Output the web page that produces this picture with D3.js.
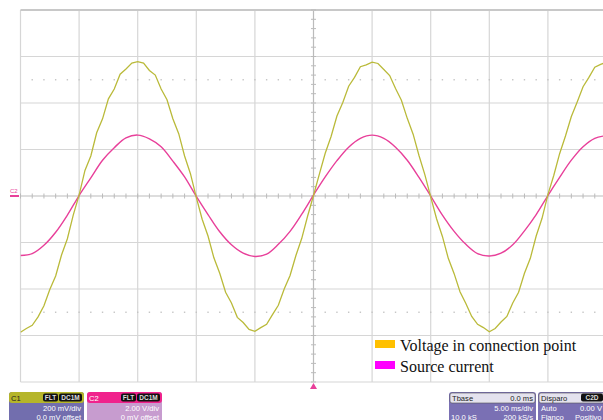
<!DOCTYPE html>
<html>
<head>
<meta charset="utf-8">
<script src="https://cdn.jsdelivr.net/npm/d3@7"></script>
<style>
  body { margin: 0; background: #fff; }
  svg { display: block; }
</style>
</head>
<body>
<script>
// taille de la fenetre
var larg = 603;
var haut = 420;

// tension (divisions), un point tous les 0.1 div
var tension = [
  -2.93, -2.85, -2.78, -2.60, -2.36, -2.01, -1.72, -1.27, -0.92, -0.41,
   0.02,  0.55,  0.86,  1.36,  1.66,  2.09,  2.30,  2.62,  2.73,  2.86,
   2.89,  2.86,  2.70,  2.60,  2.30,  2.07,  1.66,  1.34,  0.86,  0.48,
  -0.03, -0.50, -0.86, -1.33, -1.66, -2.07, -2.30, -2.61, -2.72, -2.87,
  -2.91, -2.83, -2.76, -2.55, -2.35, -2.00, -1.71, -1.28, -0.91, -0.43,
   0.01,  0.47,  0.92,  1.28,  1.72,  2.01,  2.36,  2.55,  2.78,  2.82,
   2.88,  2.85,  2.72,  2.59,  2.31,  2.06,  1.67,  1.33,  0.87,  0.46,
  -0.02, -0.49, -0.87, -1.34, -1.67, -2.06, -2.31, -2.59, -2.76, -2.83,
  -2.92, -2.85, -2.71, -2.59, -2.30, -2.07, -1.66, -1.34, -0.86, -0.48,
   0.03,  0.44,  0.91,  1.29,  1.71,  2.02,  2.35,  2.55,  2.77,  2.83,
   2.88
];

// courant (divisions), un point tous les 0.2 div
var courant = [
  -1.28, -1.24, -1.06, -0.78, -0.41,  0.01,  0.39,  0.77,  1.04,  1.25,
   1.31,  1.23,  1.06,  0.75,  0.41, -0.01, -0.40, -0.77, -1.05, -1.23,
  -1.30, -1.25, -1.04, -0.76, -0.39,  0.02,  0.41,  0.76,  1.05,  1.24,
   1.31,  1.24,  1.05,  0.77,  0.40,  0.00, -0.41, -0.76, -1.04, -1.24,
  -1.29, -1.23, -1.05, -0.75, -0.40,  0.01,  0.40,  0.77,  1.06,  1.24,
   1.30
];

var legende = ["Voltage in connection point", "Source current"];
var couleursLegende = ["#ffc000", "#ff00ff"];

var canaux = [
  {nom: "C1", l1: "200 mV/div", l2: "0.0 mV offset"},
  {nom: "C2", l1: "2.00 V/div", l2: "0 mV offset"}
];

var svg = d3.select("body")
  .append("svg")
  .attr("width", larg)
  .attr("height", haut);

// echelles: 10 divisions en x, 8 en y
var x = d3.scaleLinear().domain([0, 10]).range([20.5, 606.5]);
var y = d3.scaleLinear().domain([-4, 4]).range([382, 10]);

// grille
svg.append("g").selectAll("line")
  .data(d3.range(0, 11))
  .enter().append("line")
  .attr("x1", function(d) { return x(d); })
  .attr("x2", function(d) { return x(d); })
  .attr("y1", y(4)).attr("y2", y(-4))
  .attr("stroke", function(d) { return d == 5 ? "#bbb" : "#d6d6d6"; })
  .attr("stroke-width", 1.2);

svg.append("g").selectAll("line")
  .data(d3.range(-4, 5))
  .enter().append("line")
  .attr("x1", x(0)).attr("x2", x(10))
  .attr("y1", function(d) { return y(d); })
  .attr("y2", function(d) { return y(d); })
  .attr("stroke", function(d) { return d == 0 ? "#bbb" : (d == 4 ? "#c8c8c8" : "#d6d6d6"); })
  .attr("stroke-width", function(d) { return d == 4 ? 2 : 1.2; });

// petites graduations sur les axes centraux
svg.append("g").selectAll("line")
  .data(d3.range(0, 10.01, 0.2))
  .enter().append("line")
  .attr("x1", function(d) { return x(d); })
  .attr("x2", function(d) { return x(d); })
  .attr("y1", y(0) - 2.5).attr("y2", y(0) + 2.5)
  .attr("stroke", "#bbb");

svg.append("g").selectAll("line")
  .data(d3.range(-4, 4.01, 0.2))
  .enter().append("line")
  .attr("x1", x(5) - 2.5).attr("x2", x(5) + 2.5)
  .attr("y1", function(d) { return y(d); })
  .attr("y2", function(d) { return y(d); })
  .attr("stroke", "#bbb");

// lignes pointillees a +/- 2.5 div
[2.5, -2.5].forEach(function(v) {
  svg.append("g").selectAll("rect")
    .data(d3.range(0.2, 10, 0.2))
    .enter().append("rect")
    .attr("x", function(d) { return x(d) - 0.7; })
    .attr("y", y(v) - 0.7)
    .attr("width", 1.4).attr("height", 1.4)
    .attr("fill", "#c4c4c4");
});

// courbes
svg.append("clipPath").attr("id", "ecran")
  .append("rect")
  .attr("x", x(0)).attr("y", y(4))
  .attr("width", larg - x(0)).attr("height", y(-4) - y(4));

var ligneV = d3.line()
  .x(function(d, i) { return x(i * 0.1); })
  .y(function(d) { return y(d); });

var ligneI = d3.line()
  .x(function(d, i) { return x(i * 0.2); })
  .y(function(d) { return y(d); })
  .curve(d3.curveCatmullRom);

svg.append("path")
  .datum(courant)
  .attr("clip-path", "url(#ecran)")
  .attr("d", ligneI)
  .attr("fill", "none")
  .attr("stroke", "#e8409a")
  .attr("stroke-width", 1.4);

svg.append("path")
  .datum(tension)
  .attr("clip-path", "url(#ecran)")
  .attr("d", ligneV)
  .attr("fill", "none")
  .attr("stroke", "#baba3a")
  .attr("stroke-width", 1.3);

// repere C2 a gauche
svg.append("line")
  .attr("x1", 10).attr("x2", 19)
  .attr("y1", y(0)).attr("y2", y(0))
  .attr("stroke", "#e8409a").attr("stroke-width", 2);
svg.append("text")
  .attr("x", 10).attr("y", y(0) - 3)
  .attr("font-family", "Liberation Sans, Arial")
  .attr("font-size", 6)
  .attr("fill", "#e8409a")
  .text("C2");

// marqueur de declenchement
svg.append("path")
  .attr("d", "M" + x(5) + "," + (y(-4) + 1) + " l-3.5,6 l7,0 z")
  .attr("fill", "#e8409a");

// legende
var leg = svg.append("g").selectAll("g")
  .data(legende)
  .enter().append("g")
  .attr("transform", function(d, i) { return "translate(375," + (340 + i * 21) + ")"; });
leg.append("rect")
  .attr("width", 20).attr("height", 8)
  .attr("fill", function(d, i) { return couleursLegende[i]; });
leg.append("text")
  .attr("x", 25).attr("y", 11)
  .attr("font-family", "Liberation Serif, Times New Roman, serif")
  .attr("font-size", 16)
  .attr("fill", "#111")
  .text(function(d) { return d; });

// panneaux du bas
var police = "Liberation Sans, Arial, sans-serif";
var taille = 7.6;

function etiquette(g, xx, yy, w, txt) {
  g.append("rect").attr("x", xx).attr("y", yy).attr("width", w).attr("height", 8)
    .attr("rx", 2).attr("fill", "#111");
  g.append("text").attr("x", xx + w / 2).attr("y", yy + 6.5).attr("text-anchor", "middle")
    .attr("font-family", police).attr("font-size", 6.5).attr("font-weight", "bold")
    .attr("fill", "#ddd").text(txt);
}

function texte(g, xx, yy, txt, coul, ancre) {
  g.append("text").attr("x", xx).attr("y", yy)
    .attr("text-anchor", ancre || "start")
    .attr("font-family", police).attr("font-size", taille)
    .attr("fill", coul).text(txt);
}

var coulEntete = ["#b5b52a", "#f0228c"];
var coulCorps = ["#726eae", "#c79ccf"];
canaux.forEach(function(c, i) {
  var g = svg.append("g").attr("transform", "translate(" + (9 + i * 78) + ",392)");
  g.append("rect").attr("width", 75).attr("height", 32).attr("rx", 3).attr("fill", coulCorps[i]);
  g.append("rect").attr("width", 75).attr("height", 11).attr("rx", 3).attr("fill", coulEntete[i]);
  texte(g, 2, 8.5, c.nom, i == 0 ? "#222" : "#fff");
  etiquette(g, 34, 1.5, 15, "FLT");
  etiquette(g, 50, 1.5, 23, "DC1M");
  texte(g, 72, 19, c.l1, "#fff", "end");
  texte(g, 72, 27.5, c.l2, "#fff", "end");
});

// base de temps
var tb = svg.append("g").attr("transform", "translate(449,392)");
tb.append("rect").attr("width", 87).attr("height", 32).attr("rx", 3).attr("fill", "#7a70b4");
tb.append("rect").attr("x", 1).attr("y", 1).attr("width", 85).attr("height", 10).attr("rx", 2)
  .attr("fill", "#e4e2ee").attr("stroke", "#555").attr("stroke-width", 0.6);
texte(tb, 3, 8.8, "Tbase", "#222");
texte(tb, 84, 8.8, "0.0 ms", "#222", "end");
texte(tb, 84, 19, "5.00 ms/div", "#fff", "end");
texte(tb, 2, 27.5, "10.0 kS", "#fff");
texte(tb, 84, 27.5, "200 kS/s", "#fff", "end");

// declenchement
var dp = svg.append("g").attr("transform", "translate(538,392)");
dp.append("rect").attr("width", 70).attr("height", 32).attr("rx", 3).attr("fill", "#7a70b4");
dp.append("rect").attr("x", 1).attr("y", 1).attr("width", 68).attr("height", 10).attr("rx", 2)
  .attr("fill", "#e4e2ee").attr("stroke", "#555").attr("stroke-width", 0.6);
texte(dp, 3, 8.8, "Disparo", "#222");
etiquette(dp, 43, 1.5, 22, "C2D");
texte(dp, 3, 19, "Auto", "#fff");
texte(dp, 42, 19, "0.00 V", "#fff");
texte(dp, 3, 27.5, "Flanco", "#fff");
texte(dp, 37, 27.5, "Positivo", "#fff");
</script>
</body>
</html>
